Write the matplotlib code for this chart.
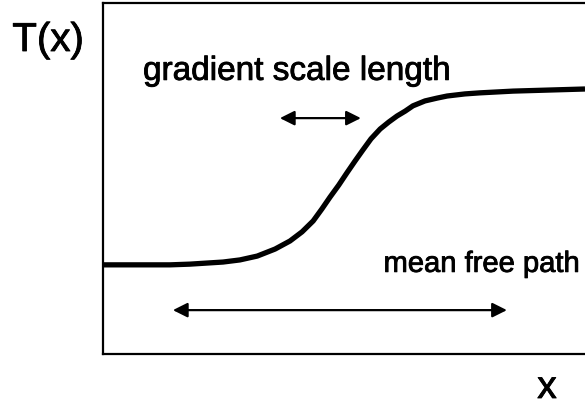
import matplotlib
matplotlib.use("Agg")
import matplotlib.pyplot as plt
import matplotlib.patheffects as pe

plt.rcParams['font.family'] = ['Liberation Sans', 'DejaVu Sans']

# curve (position, temperature), arbitrary units 0..100
pos = [0, 13.9, 18.0, 24.9, 28.4, 32.0, 35.7, 38.8, 41.3, 43.6, 45.4, 47.1, 48.9, 50.6,
       52.3, 53.9, 55.6, 57.5, 59.3, 61.0, 62.7, 64.3, 66.8, 69.3, 71.4, 75.1, 78.2, 85.1, 100]
temp = [25.4, 25.4, 25.6, 26.2, 26.8, 27.9, 29.9, 32.2, 34.8, 37.9, 41.3, 44.7, 48.1, 51.6,
        55.0, 58.1, 61.3, 64.1, 66.1, 67.8, 69.2, 70.7, 72.1, 72.9, 73.5, 74.1, 74.4, 74.9, 75.5]

# arrows: (start, end, height)
grad_arrow = (36.7, 53.5, 67.2)
mfp_arrow = (14.5, 83.8, 12.5)

labels = {"grad": "gradient scale length", "mfp": "mean free path",
          "ylab": "T(x)", "xlab": "x"}

W, H = 585, 407
fig = plt.figure(figsize=(W / 100, H / 100), dpi=100)
ax = fig.add_axes([103 / W, (H - 354) / H, (590 - 103) / W, 351 / H])
ax.set_xlim(0, 100 * (590 - 103) / (585 - 103))
ax.set_ylim(0, 100)
ax.set_xticks([])
ax.set_yticks([])
for s in ax.spines.values():
    s.set_linewidth(1.6)

ax.plot(pos, temp, color='black', lw=3.8, solid_capstyle='butt')

for x0, x1, y in (grad_arrow, mfp_arrow):
    ax.annotate('', xy=(x1, y), xytext=(x0, y),
                arrowprops=dict(arrowstyle='<|-|>', color='black', lw=1.6,
                                mutation_scale=22, shrinkA=0, shrinkB=0))

# slightly heavier text, like the scanned original
heavy = [pe.withStroke(linewidth=0.6, foreground='black')]

ax.text(8.3, 78.1, labels["grad"], fontsize=24, ha='left', va='baseline', path_effects=heavy)
ax.text(58.2, 23.4, labels["mfp"], fontsize=21, ha='left', va='baseline', path_effects=heavy)

fig.text(48 / W, 1 - 40 / H, labels["ylab"], fontsize=29, ha='center', va='center', path_effects=heavy)
fig.text(547 / W, 1 - 388 / H, labels["xlab"], fontsize=28, ha='center', va='center', path_effects=heavy)

fig.savefig("out.png", dpi=100)
